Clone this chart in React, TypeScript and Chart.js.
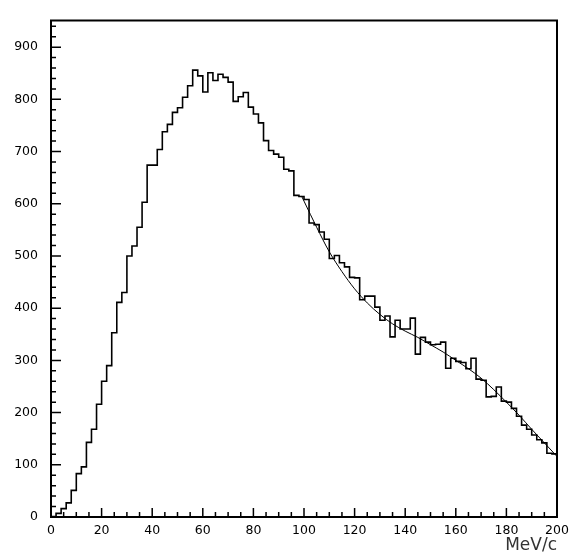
import { useEffect, useRef } from "react";
import { Chart, registerables } from "chart.js";

Chart.register(...registerables);

// ---- data ----
const binLow = 0;
const binWidth = 2;
const counts = [
  1, 7, 16, 27, 51, 83, 96, 143, 168, 216,
  260, 290, 353, 411, 430, 500, 519, 555, 603, 674,
  674, 704, 738, 752, 775, 784, 804, 826, 856, 845,
  814, 851, 836, 848, 842, 833, 796, 805, 813, 785,
  772, 755, 721, 702, 695, 689, 666, 663, 616, 614,
  608, 563, 560, 546, 532, 495, 501, 487, 479, 459,
  458, 416, 423, 423, 402, 377, 385, 345, 377, 360,
  360, 381, 312, 344, 335, 330, 331, 335, 285, 304,
  298, 296, 284, 304, 264, 262, 230, 231, 249, 222,
  220, 208, 193, 176, 168, 157, 148, 142, 122, 121,
];
const fitX = [99, 100, 105, 110, 115, 120, 125, 130, 135, 140, 145, 150, 155, 160, 165, 170, 175, 180, 185, 190, 195, 200];
const fitY = [615, 605, 555, 508, 470, 437, 410, 388, 370, 356, 344, 330, 316, 300, 284, 266, 244, 220, 195, 168, 142, 116];

const xLabelTicks = [0, 20, 40, 60, 80, 100, 120, 140, 160, 180, 200];
const yLabelTicks = [0, 100, 200, 300, 400, 500, 600, 700, 800, 900];
const xMinorStep = 5;
const yMinorStep = 20;
const X_MIN = 0;
const X_MAX = 200;
const Y_MIN = 0;
const Y_MAX = 951;
const xTitle = "MeV/c";

const FONT = "'DejaVu Sans', sans-serif";

const frameTicks = {
  id: "frameTicks",
  afterDraw(chart: any) {
    const { ctx, chartArea: a } = chart;
    const x = chart.scales.x;
    const y = chart.scales.y;
    ctx.save();
    ctx.strokeStyle = "#000";
    ctx.lineWidth = 1.5;
    ctx.beginPath();
    for (let v = Y_MIN; v <= Y_MAX; v += yMinorStep) {
      const py = y.getPixelForValue(v);
      const len = yLabelTicks.includes(v) ? 10 : 5;
      ctx.moveTo(a.left, py);
      ctx.lineTo(a.left + len, py);
    }
    for (let v = X_MIN; v <= X_MAX; v += xMinorStep) {
      const px = x.getPixelForValue(v);
      const len = xLabelTicks.includes(v) ? 9 : 5;
      ctx.moveTo(px, a.bottom);
      ctx.lineTo(px, a.bottom - len);
    }
    ctx.stroke();
    ctx.lineWidth = 2;
    ctx.strokeRect(a.left, a.top, a.right - a.left, a.bottom - a.top);
    ctx.restore();
  },
};

export default function App() {
  const ref = useRef<HTMLCanvasElement | null>(null);

  useEffect(() => {
    if (!ref.current) return;
    const histPoints = counts.map((c, i) => ({ x: binLow + i * binWidth, y: c }));
    histPoints.push({ x: binLow + counts.length * binWidth, y: counts[counts.length - 1] });
    const fitPoints = fitX.map((xv, i) => ({ x: xv, y: fitY[i] }));

    const chart = new Chart(ref.current, {
      type: "line",
      data: {
        datasets: [
          {
            data: histPoints,
            borderColor: "#000",
            borderWidth: 1.6,
            stepped: "before",
            pointRadius: 0,
            fill: false,
          },
          {
            data: fitPoints,
            borderColor: "#000",
            borderWidth: 1,
            cubicInterpolationMode: "monotone",
            pointRadius: 0,
            fill: false,
          },
        ],
      },
      options: {
        animation: false,
        responsive: false,
        devicePixelRatio: 1,
        layout: { padding: { left: 0, right: 24, top: 6, bottom: 0 } },
        plugins: { legend: { display: false }, tooltip: { enabled: false } },
        scales: {
          x: {
            type: "linear",
            min: X_MIN,
            max: X_MAX,
            grid: { display: false, drawTicks: false },
            border: { display: false },
            afterBuildTicks: (s: any) => {
              s.ticks = xLabelTicks.map((v) => ({ value: v }));
            },
            afterFit: (s: any) => {
              s.height = 39;
            },
            ticks: {
              padding: 6,
              autoSkip: false,
              maxRotation: 0,
              color: "#000",
              font: { family: FONT, size: 12.5 },
            },
            title: {
              display: true,
              text: xTitle,
              align: "end",
              color: "#333",
              padding: 0,
              font: { family: FONT, size: 17 },
            },
          },
          y: {
            type: "linear",
            min: Y_MIN,
            max: Y_MAX,
            grid: { display: false, drawTicks: false },
            border: { display: false },
            afterBuildTicks: (s: any) => {
              s.ticks = yLabelTicks.map((v) => ({ value: v }));
            },
            afterFit: (s: any) => {
              s.width = 51;
            },
            ticks: {
              padding: 13,
              autoSkip: false,
              color: "#000",
              font: { family: FONT, size: 12.5 },
            },
          },
        },
      },
      plugins: [frameTicks],
    } as any);
    return () => chart.destroy();
  }, []);

  return (
    <div style={{ position: "absolute", left: 0, top: 0, width: 581, height: 556, background: "#fff" }}>
      <canvas ref={ref} width={581} height={556} />
    </div>
  );
}
